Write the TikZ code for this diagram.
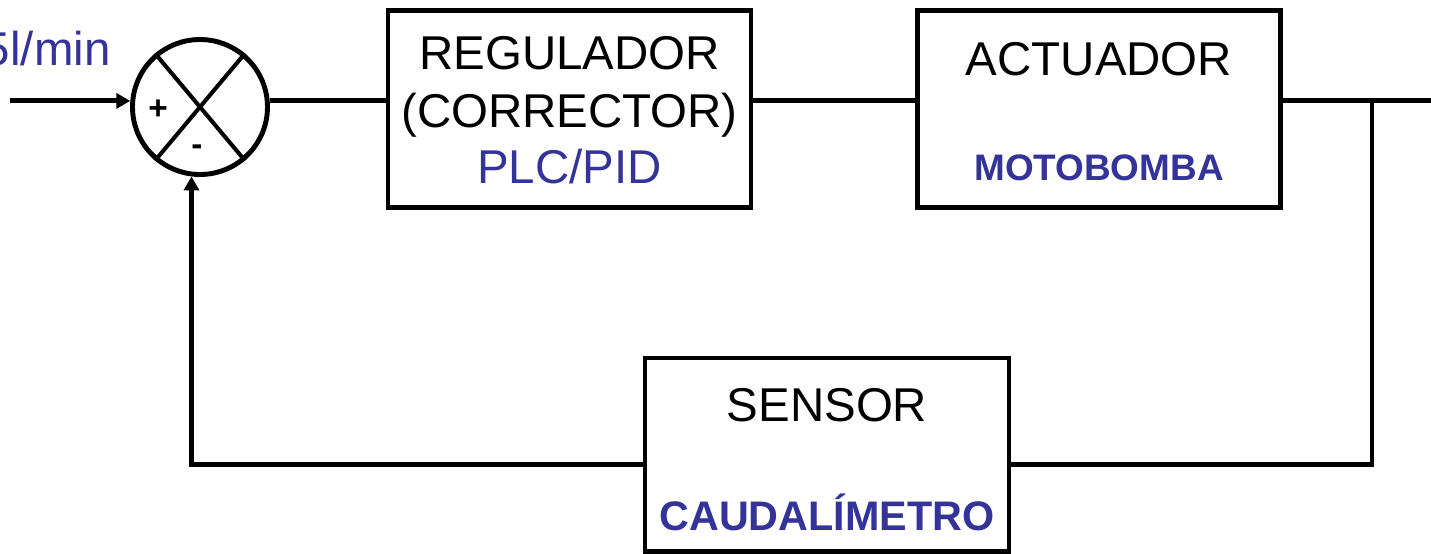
\documentclass[tikz,border=0pt]{standalone}
\usepackage{fontspec}
\setmainfont{Liberation Sans}
\usetikzlibrary{arrows.meta, positioning, calc}
\definecolor{cblue}{HTML}{333399}
\tikzset{
  every picture/.style={line width=2.8pt},
  box/.style={draw, rectangle, inner sep=0pt, minimum width=7.26cm, minimum height=3.95cm},
  junction/.style={draw, circle, inner sep=0pt, minimum size=2.7cm},
  arrow/.style={-{Triangle[length=0.28cm, width=0.3cm]}},
  label/.style={font=\fontsize{27}{32}\selectfont, anchor=base, inner sep=0pt},
  device/.style={font=\bfseries\fontsize{21}{25}\selectfont, text=cblue, anchor=base, inner sep=0pt},
  sign/.style={font=\bfseries\fontsize{19}{22}\selectfont, inner sep=0pt},
}
\begin{document}
\begin{tikzpicture}
  \useasboundingbox (0,0) rectangle (28.62,-11.08);
  % blocks of the loop
  \node[junction] (sum) at (4.0,-2.14) {};
  \node[box] (reg) at (11.39,-2.18) {};
  \node[box] (act) at (21.98,-2.18) {};
  \node[box, minimum width=7.28cm, minimum height=3.87cm] (sensor) at (16.54,-9.095) {};
  % cross and signs of the comparator
  \draw[line width=2.3pt] (sum.50) -- (sum.230) (sum.130) -- (sum.310);
  \node[sign] (plus) at ([shift={(-0.84,-0.06)}]sum.center) {+};
  \node[sign] (minus) at ([shift={(-0.06,-0.86)}]sum.center) {-};
  % texts
  \node[label, text=cblue, anchor=base east] (setpoint) at (2.26,-1.3) {5l/min};
  \node[label] (regname) at ([yshift=0.80cm]reg.center) {REGULADOR};
  \node[label] (regalt) at ([yshift=-0.36cm]reg.center) {(CORRECTOR)};
  \node[label, text=cblue] (regdev) at ([yshift=-1.48cm]reg.center) {PLC/PID};
  \node[label] (actname) at ([yshift=0.68cm]act.center) {ACTUADOR};
  \node[device] (actdev) at ([yshift=-1.42cm]act.center) {MOTOBOMBA};
  \node[label] (senname) at ([yshift=0.675cm]sensor.center) {SENSOR};
  \node[device, font=\bfseries\fontsize{23.5}{28}\selectfont] (sendev) at ([yshift=-1.505cm]sensor.center) {CAUDALÍMETRO};
  % connectors
  \coordinate (in) at (0.2,0);
  \coordinate (out) at (28.62,0);
  \coordinate (branch) at (27.44,0);
  \draw[arrow] (sum.175 -| in) -- (sum.175);
  \draw (sum.5) -- (sum.5 -| reg.west);
  \draw (reg.east |- sum.5) -- (act.west |- sum.5);
  \draw (act.east |- sum.5) -- (out |- sum.5);
  \draw (branch |- sum.5) |- (sensor.357);
  \draw[arrow] (sensor.183) -| (sum.263);
\end{tikzpicture}
\end{document}
